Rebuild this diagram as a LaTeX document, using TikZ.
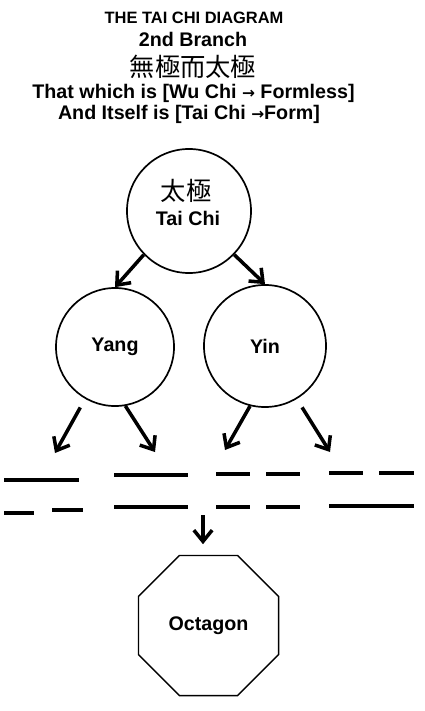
\documentclass[tikz,border=0pt]{standalone}
\usepackage{fontspec}
\setmainfont{Liberation Sans}
\newfontfamily\hanzi{Noto Sans CJK TC}
\newfontfamily\arrowfont{DejaVu Sans}
\newcommand{\fwd}{{\arrowfont\fontsize{11}{12}\selectfont →}}
\usetikzlibrary{arrows.meta, shapes.geometric}

\begin{document}
\begin{tikzpicture}[x=0.025cm, y=-0.025cm,
  font=\bfseries\fontsize{14}{16}\selectfont,
  ball/.style={draw, circle, line width=1.2pt, inner sep=0pt},
  branch/.style={line width=2.5pt, -{Straight Barb[length=8pt, width=13pt]}},
  bar/.style={line width=3pt},
  han/.style={font=\hanzi\fontsize{18}{20}\selectfont}]
\useasboundingbox (0,0) rectangle (425,711);
\node[anchor=base, font=\bfseries\fontsize{11.7}{13}\selectfont] (title) at (194,23) {THE TAI CHI DIAGRAM};
\node[anchor=base] (branchno) at (193,46) {2nd Branch};
\node[han] (wuji) at (193,66.5) {無極而太極};
\node[anchor=base] (formless) at (193.5,98) {That which is [Wu Chi \fwd{} Formless]};
\node[anchor=base] (form) at (189,119) {And Itself is [Tai Chi \fwd Form]};
\node[ball, minimum size=3.1cm] (taichi) at (189,211) {};
\node[han] (taichihan) at (186,191) {太極};
\node[anchor=base] (taichiname) at (188,225) {Tai Chi};
\node[ball, minimum size=2.95cm] (yang) at (115,347) {Yang};
\node[ball, minimum size=3.05cm] (yin) at (265,346) {Yin};
\node[draw, regular polygon, regular polygon sides=8, minimum size=3.79cm,
  line width=1pt, inner sep=0pt] (octagon) at (208.5,625.5) {Octagon};
\draw[branch] (taichi.224) -- (yang.north);
\draw[branch] (taichi.316) -- (yin.north);
\coordinate (yangleft) at (55,453);
\coordinate (yangright) at (155,452);
\coordinate (yinleft) at (225,450);
\coordinate (yinright) at (330,452);
\draw[branch, shorten <=7pt] (yang.240) -- (yangleft);
\draw[branch] (yang.280) -- (yangright);
\draw[branch] (yin.256) -- (yinleft);
\draw[branch, shorten <=7pt] (yin.301) -- (yinright);
\foreach \a/\b/\y in {4/79/480, 114/188/475, 216/250/474, 266/300/474, 329/363/473, 379/414/473,
  4/34/513, 52/83/510, 114/188/507, 216/250/507, 266/300/507, 329/414/506}
  \draw[bar] (\a,\y) -- (\b,\y);
\coordinate (join) at (203,515);
\draw[branch, shorten >=7.5pt] (join) -- (join |- octagon.north);
\end{tikzpicture}
\end{document}
